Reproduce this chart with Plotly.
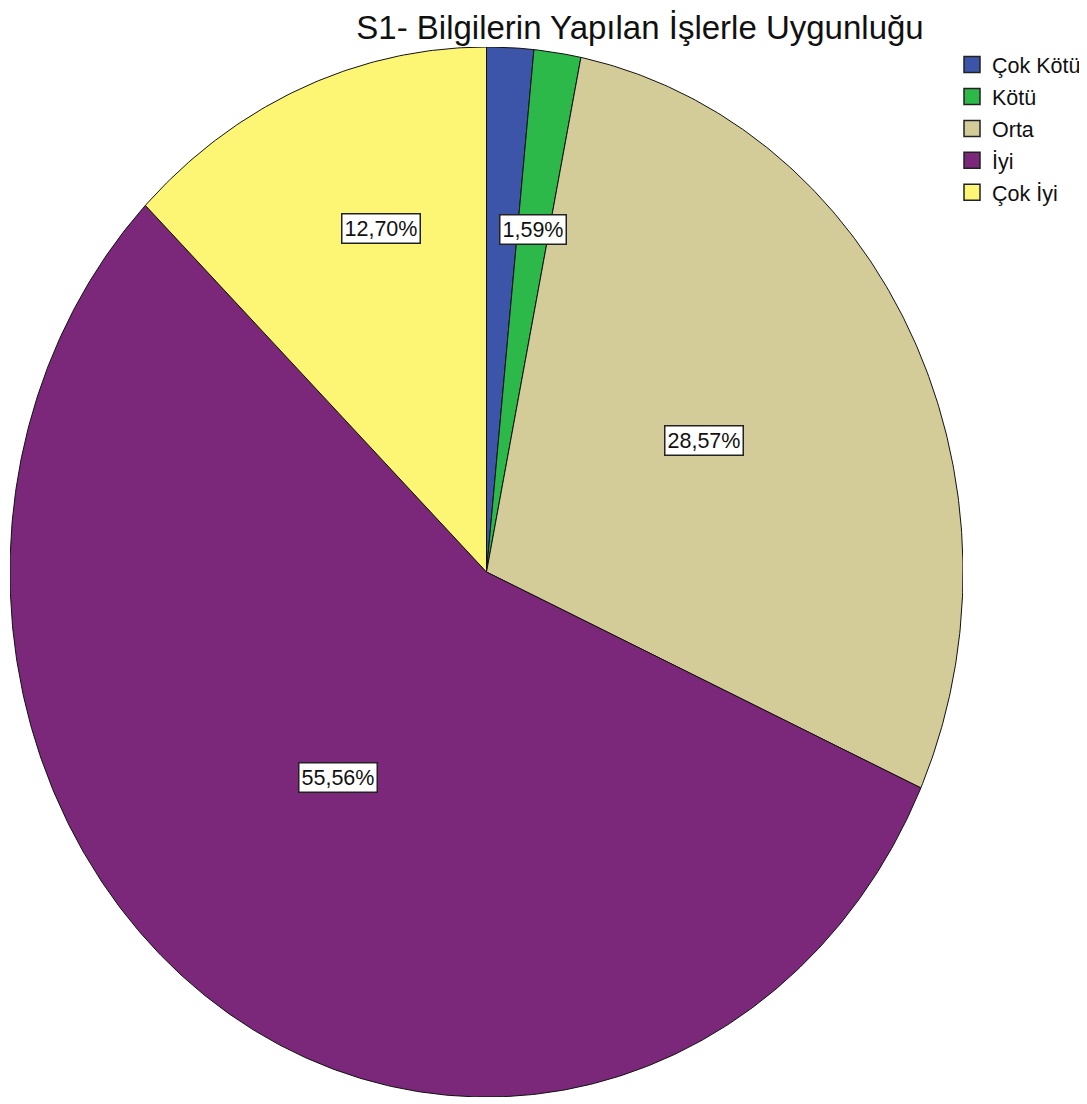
import numpy as np
import plotly.graph_objects as go

# ---- data ----
categories = ["Çok Kötü", "Kötü", "Orta", "İyi", "Çok İyi"]
counts = [1, 1, 18, 35, 8]
show_label = [False, True, True, True, True]

# ---- style ----
colors = ["#3D55A8", "#2DB84A", "#D3CC98", "#7B277A", "#FCF674"]
label_r = [0.66, 0.66, 0.52, 0.50, 0.69]      # radial fraction of label
label_da = [0.0, 0.0, -1.6, 4.3, 4.1]         # angular nudge (deg)
FONT = "Liberation Sans, Arial, sans-serif"

total = sum(counts)
fracs = [c / total for c in counts]

fig = go.Figure()

start = 0.0
mids = []
for cat, f, col in zip(categories, fracs, colors):
    a0, a1 = start * 360, (start + f) * 360
    n = max(4, int(np.ceil((a1 - a0) / 0.5)))
    th = np.radians(np.linspace(a0, a1, n))
    xs = np.concatenate([[0], np.sin(th), [0]])
    ys = np.concatenate([[0], np.cos(th), [0]])
    fig.add_trace(go.Scatter(
        x=xs, y=ys, mode="lines", fill="toself", fillcolor=col,
        line=dict(color="#111111", width=1), showlegend=False,
        hoverinfo="text", text=f"{cat}: {100*f:.2f}%",
    ))
    mids.append((a0 + a1) / 2)
    start += f

# legend entries
for i, (cat, col) in enumerate(zip(categories, colors)):
    fig.add_trace(go.Scatter(
        x=[None], y=[None], mode="markers", name=cat, legendgroup=f"g{i}",
        marker=dict(symbol="square", size=19, color=col,
                    line=dict(color="#222222", width=1.5)),
    ))

# percentage labels
for i, f in enumerate(fracs):
    if not show_label[i]:
        continue
    ang = np.radians(mids[i] + label_da[i])
    txt = f"{100*f:.2f}%".replace(".", ",")
    fig.add_annotation(
        x=label_r[i] * np.sin(ang), y=label_r[i] * np.cos(ang),
        xref="x", yref="y", text=txt, showarrow=False,
        font=dict(family=FONT, size=21.5, color="#111111"),
        bgcolor="white", bordercolor="#222222", borderwidth=1.5, borderpad=2,
    )

W, H = 1087, 1104
OFF = 8  # page body margin
fig.update_layout(
    width=W, height=H,
    margin=dict(l=0, r=0, t=0, b=0),
    paper_bgcolor="white", plot_bgcolor="white",
    title=dict(text="S1- Bilgilerin Yapılan İşlerle Uygunluğu",
               x=(640 - OFF) / W, xanchor="center", y=1 - (27 - OFF) / H,
               yanchor="middle",
               font=dict(family=FONT, size=33, color="#111111")),
    xaxis=dict(range=[-1, 1], domain=[(10 - OFF) / W, (963 - OFF) / W],
               visible=False, fixedrange=True),
    yaxis=dict(range=[-1, 1], domain=[1 - (1097 - OFF) / H, 1 - (47 - OFF) / H],
               visible=False, fixedrange=True),
    legend=dict(x=944 / W, y=1 - 36 / H, xanchor="left", yanchor="top",
                font=dict(family=FONT, size=21.5, color="#111111"),
                tracegroupgap=1, bgcolor="rgba(0,0,0,0)", borderwidth=0),
    showlegend=True,
)

fig.write_html("out.html")
